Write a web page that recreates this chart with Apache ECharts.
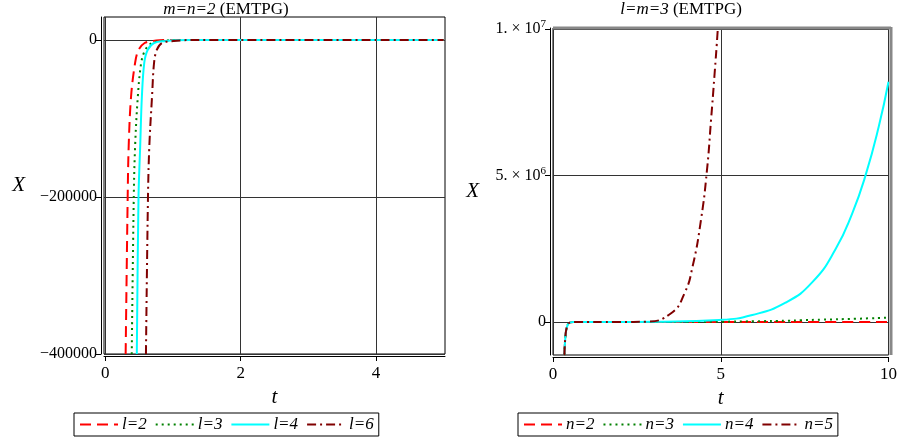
<!DOCTYPE html>
<html>
<head>
<meta charset="utf-8">
<script src="https://cdn.jsdelivr.net/npm/echarts@6/dist/echarts.min.js"></script>
<style>html,body{margin:0;background:#fff}#chart{width:900px;height:441px}</style>
</head>
<body>
<div id="chart"></div>
<script>
const FONT = '"Liberation Serif", "DejaVu Serif", serif'

// left panel (m=n=2): X read at the same levels for every l
const leftX = [-400000, -200000, -135000, -72000, -29000, -12700, -3800, -1300, -300, 0, 0]
const tL2 = [0.30, 0.33, 0.345, 0.38, 0.44, 0.49, 0.58, 0.70, 0.80, 1.0, 5]
const tL3 = [0.39, 0.42, 0.44, 0.48, 0.53, 0.59, 0.69, 0.83, 0.95, 1.15, 5]
const tL4 = [0.465, 0.49, 0.515, 0.54, 0.575, 0.625, 0.72, 0.90, 1.05, 1.25, 5]
const tL6 = [0.60, 0.63, 0.65, 0.69, 0.72, 0.76, 0.84, 1.01, 1.15, 1.35, 5]
const leftTicksX = [0, 2, 4]
const leftTicksY = [-400000, -200000, 0]

// right panel (l=m=3)
const tN2 = [0.34, 0.37, 0.42, 0.5, 0.6, 10]
const xN2 = [-1130000, -500000, -150000, -20000, 0, 0]
const tN3 = [0.34, 0.37, 0.42, 0.5, 0.6, 4, 5, 6, 7, 7.4, 8, 9, 10]
const xN3 = [-1130000, -500000, -150000, -20000, 0, 0, 10000, 25000, 45000, 60000, 80000, 110000, 150000]
const tN4 = [0.34, 0.37, 0.42, 0.5, 0.6, 2, 3, 4.95, 5.94, 6.93, 7.73, 8.42, 8.92, 9.32, 9.71, 10]
const xN4 = [-1130000, -500000, -150000, -20000, 0, 0, 10000, 70000, 240000, 660000, 1360000, 2480000, 3710000, 5020000, 6670000, 8200000]
const tN5 = [0.34, 0.37, 0.42, 0.5, 0.6, 2, 2.78, 3.52, 3.92, 4.16, 4.41, 4.59, 4.71, 4.81, 4.91, 4.95]
const xN5 = [-1130000, -500000, -150000, -20000, 0, 0, 10000, 300000, 980000, 1890000, 3480000, 5190000, 6890000, 8370000, 9970000, 10800000]
const rightTicksX = [0, 5, 10]
const rightTicksY = [0, 5000000, 10000000]

const zip = (t, x) => t.map((v, i) => [v, x[i]])

const RED = '#ff0000', GREEN = '#008000', CYAN = '#00ffff', MAROON = '#800000'
const DASH = [11, 6], DOT = [2, 4], DASHDOT = [9, 4, 2, 4]

function curve(name, data, color, dash, idx) {
  return {
    name, type: 'line', data, xAxisIndex: idx, yAxisIndex: idx,
    showSymbol: false, symbol: 'none', smooth: idx ? 0.5 : 0.35,
    lineStyle: { width: 2, color, type: dash }, itemStyle: { color },
    emphasis: { disabled: true }, animation: false
  }
}

const axisCommon = {
  type: 'value',
  axisLine: { show: true, onZero: false, lineStyle: { color: '#000', width: 1 } },
  axisTick: { show: true, length: 5, lineStyle: { color: '#000' } },
  splitLine: { show: true, lineStyle: { color: '#333', width: 1 } },
  axisLabel: { color: '#000', fontFamily: FONT, fontSize: 16, margin: 4 },
  nameTextStyle: { color: '#000', fontFamily: FONT, fontSize: 21, fontStyle: 'italic' }
}

const sup = v => {
  if (v === 0) return '0'
  const e = Math.floor(Math.log10(v))
  return '{b|' + (v / Math.pow(10, e)) + '. × 10}{s|' + e + '}'
}

const legendCommon = {
  orient: 'horizontal', top: 413, padding: [3, 5, 3, 5], itemGap: 8,
  itemWidth: 38, itemHeight: 12, borderColor: '#000', borderWidth: 1, borderRadius: 0,
  itemStyle: { opacity: 0 },
  textStyle: { color: '#000', fontFamily: FONT, fontSize: 17, fontStyle: 'italic', padding: [0, 0, 0, -1] }
}

const option = {
  animation: false,
  textStyle: { fontFamily: FONT },
  grid: [
    { left: 104, top: 17, width: 341, height: 337, show: true, borderColor: '#000', borderWidth: 1, backgroundColor: '#fff' },
    { left: 553, top: 28, width: 337, height: 327, show: true, borderColor: '#000', borderWidth: 1, backgroundColor: '#fff' }
  ],
  xAxis: [
    { ...axisCommon, gridIndex: 0, min: -0.02, max: 5.02, offset: 2, name: 't', nameLocation: 'middle', nameGap: 24,
      axisTick: { ...axisCommon.axisTick, customValues: leftTicksX },
      axisLabel: { ...axisCommon.axisLabel, customValues: leftTicksX, fontSize: 17, margin: 9 } },
    { ...axisCommon, gridIndex: 1, min: 0, max: 10, offset: 2, name: 't', nameLocation: 'middle', nameGap: 24,
      axisTick: { ...axisCommon.axisTick, customValues: rightTicksX },
      axisLabel: { ...axisCommon.axisLabel, customValues: rightTicksX, fontSize: 17, margin: 9 } }
  ],
  yAxis: [
    { ...axisCommon, gridIndex: 0, min: -400000, max: 29300, offset: 3, name: 'X', nameLocation: 'middle', nameRotate: 0, nameGap: 76,
      axisTick: { ...axisCommon.axisTick, customValues: leftTicksY },
      axisLabel: { ...axisCommon.axisLabel, customValues: leftTicksY,
        formatter: v => v === 0 ? '0' : '\u2212' + Math.abs(v) } },
    { ...axisCommon, gridIndex: 1, min: -1126000, max: 10034000, offset: 3, name: 'X', nameLocation: 'middle', nameRotate: 0, nameGap: 71,
      axisTick: { ...axisCommon.axisTick, customValues: rightTicksY },
      axisLabel: { ...axisCommon.axisLabel, customValues: rightTicksY, formatter: sup,
        rich: { b: { fontFamily: FONT, fontSize: 16, color: '#000' },
                s: { fontFamily: FONT, fontSize: 11, color: '#000', padding: [0, 0, 9, 0] } } } }
  ],
  legend: [
    { ...legendCommon, left: 74, data: ['l=2', 'l=3', 'l=4', 'l=6'] },
    { ...legendCommon, left: 518, data: ['n=2', 'n=3', 'n=4', 'n=5'] }
  ],
  graphic: [
    { type: 'text', x: 226, y: 1, style: { text: '{i|m=n=2} (EMTPG)', align: 'center',
      rich: { i: { fontFamily: FONT, fontSize: 17, fontStyle: 'italic', fill: '#000' } },
      font: '17px ' + FONT, fill: '#000' } },
    { type: 'text', x: 681, y: 1, style: { text: '{i|l=m=3} (EMTPG)', align: 'center',
      rich: { i: { fontFamily: FONT, fontSize: 17, fontStyle: 'italic', fill: '#000' } },
      font: '17px ' + FONT, fill: '#000' } },
    { type: 'line', shape: { x1: 553, y1: 28, x2: 891, y2: 28 }, style: { stroke: '#888', lineWidth: 3 }, z: 100 },
    { type: 'line', shape: { x1: 891, y1: 27, x2: 891, y2: 355 }, style: { stroke: '#888', lineWidth: 3 }, z: 100 }
  ],
  series: [
    curve('l=2', zip(tL2, leftX), RED, DASH, 0),
    curve('l=3', zip(tL3, leftX), GREEN, DOT, 0),
    curve('l=4', zip(tL4, leftX), CYAN, 'solid', 0),
    curve('l=6', zip(tL6, leftX), MAROON, DASHDOT, 0),
    curve('n=2', zip(tN2, xN2), RED, DASH, 1),
    curve('n=3', zip(tN3, xN3), GREEN, DOT, 1),
    curve('n=4', zip(tN4, xN4), CYAN, 'solid', 1),
    curve('n=5', zip(tN5, xN5), MAROON, DASHDOT, 1)
  ]
}

const chart = echarts.init(document.getElementById('chart'), null, { renderer: 'canvas' })
chart.setOption(option)
</script>
</body>
</html>
